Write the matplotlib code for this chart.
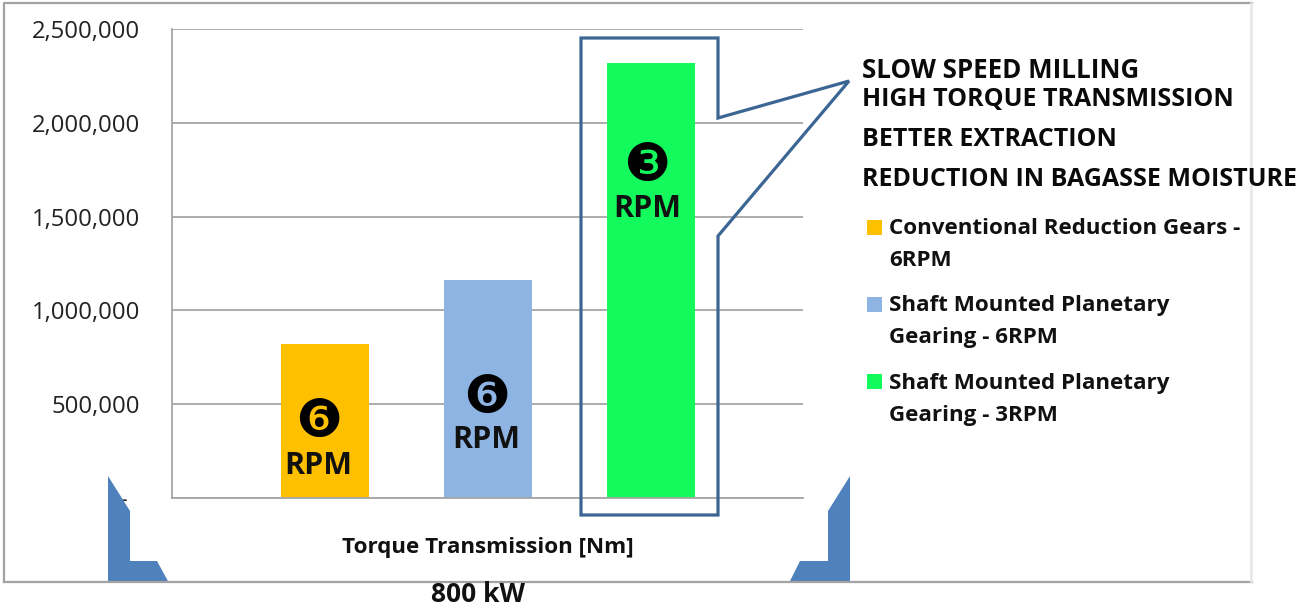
import matplotlib

matplotlib.use("Agg")
import matplotlib.pyplot as plt
from matplotlib.patches import Polygon, Rectangle

WIDTH = 1298
HEIGHT = 607

plt.rcParams["font.family"] = ["Open Sans", "DejaVu Sans"]

# data
categories = [
    "Conventional Reduction Gears -\n6RPM",
    "Shaft Mounted Planetary\nGearing - 6RPM",
    "Shaft Mounted Planetary\nGearing - 3RPM",
]
torque = [820000, 1160000, 2320000]
colors = ["#ffc000", "#8eb4e3", "#12fa5c"]
speedMarks = ["\u277b", "\u277b", "\u2778"]
speedMarkY = [405000, 534000, 1769000]
rpmY = [170000, 310000, 1540000]
labelShift = [-0.04, -0.01, -0.025]
yTicks = [0, 500000, 1000000, 1500000, 2000000, 2500000]
yTickLabels = ["-  ", "500,000", "1,000,000", "1,500,000", "2,000,000", "2,500,000"]
callout = [
    "SLOW SPEED MILLING",
    "HIGH TORQUE TRANSMISSION",
    "BETTER EXTRACTION",
    "REDUCTION IN BAGASSE MOISTURE",
]
calloutY = [70, 99, 140, 180]
calloutSize = [18.6, 18, 18, 18]

GRID = "#a6a6a6"
BLUE = "#4f81bd"
DARKBLUE = "#3b6694"

fig = plt.figure(figsize=(WIDTH / 100, HEIGHT / 100), dpi=100)

# chart area
ax = fig.add_axes(
    [172 / WIDTH, 1 - 498 / HEIGHT, (803 - 172) / WIDTH, (498 - 29) / HEIGHT]
)
xPos = list(range(len(torque)))
ax.bar(xPos, torque, width=0.54, color=colors, zorder=2)
ax.set_xlim(-0.939, 2.933)
ax.set_ylim(0, 2500000)
ax.set_xticks([])
ax.set_yticks(yTicks)
ax.set_yticklabels(yTickLabels, fontsize=17.2, color="#222222")
ax.tick_params(axis="y", length=0, pad=23)
ax.grid(axis="y", color=GRID, linewidth=1.3, zorder=1)
ax.set_axisbelow(True)
for side in ["top", "right"]:
    ax.spines[side].set_visible(False)
for side in ["left", "bottom"]:
    ax.spines[side].set_color(GRID)
    ax.spines[side].set_linewidth(1.3)

for x, shift, mark, markY, y in zip(xPos, labelShift, speedMarks, speedMarkY, rpmY):
    ax.text(x + shift, markY, mark, family="DejaVu Sans", fontsize=38,
            ha="center", va="center", color="black", zorder=4)
    ax.text(x + shift, y, "RPM", fontsize=22, ha="center", va="center",
            color="#111111", fontweight="bold", zorder=4)

# overlay in pixel coordinates for the slide furniture
over = fig.add_axes([0, 0, 1, 1], zorder=5)
over.set_xlim(0, WIDTH)
over.set_ylim(HEIGHT, 0)
over.axis("off")
over.patch.set_alpha(0)

# outer frame
over.plot([4, 4, 1252], [582, 3, 3], color="#a3a3a3", linewidth=1.6)
over.plot([4, 1252], [582, 582], color="#a3a3a3", linewidth=1.6)
over.plot([1251, 1251], [3, 582], color="#e6e6e6", linewidth=1.8)

# brackets at the bottom
over.add_patch(Polygon(
    [(108, 476), (130, 511), (130, 561), (157, 561), (169, 583), (108, 583)],
    closed=True, facecolor=BLUE, edgecolor="none",
))
over.add_patch(Polygon(
    [(850, 476), (828, 511), (828, 561), (800, 561), (789, 583), (850, 583)],
    closed=True, facecolor=BLUE, edgecolor="none",
))

# callout around the 3 RPM bar
over.add_patch(Polygon(
    [(581, 38), (718, 38), (718, 118), (849, 81), (718, 236), (718, 515), (581, 515)],
    closed=True, facecolor="none", edgecolor=DARKBLUE, linewidth=2.3,
    joinstyle="miter",
))

for line, y, size in zip(callout, calloutY, calloutSize):
    over.text(862, y, line, fontsize=size, fontweight="bold", ha="left",
              va="center", color="#0a0a0a")

# legend
legendY = [229, 306, 383]
for label, color, y in zip(categories, colors, legendY):
    over.add_patch(Rectangle((867, y - 9), 15, 15, facecolor=color, edgecolor="none"))
    first, second = label.split("\n")
    over.text(889, y, first, fontsize=16.1, fontweight="bold", ha="left",
              va="center", color="#111111")
    over.text(889, y + 32, second, fontsize=16.1, fontweight="bold", ha="left",
              va="center", color="#111111")

over.text(488, 547, "Torque Transmission [Nm]", fontsize=16.1, fontweight="bold",
          ha="center", va="center", color="#111111")
over.text(478, 595, "800 kW", fontsize=19, fontweight="bold", ha="center",
          va="center", color="#111111")

fig.savefig("out.png", dpi=100)
